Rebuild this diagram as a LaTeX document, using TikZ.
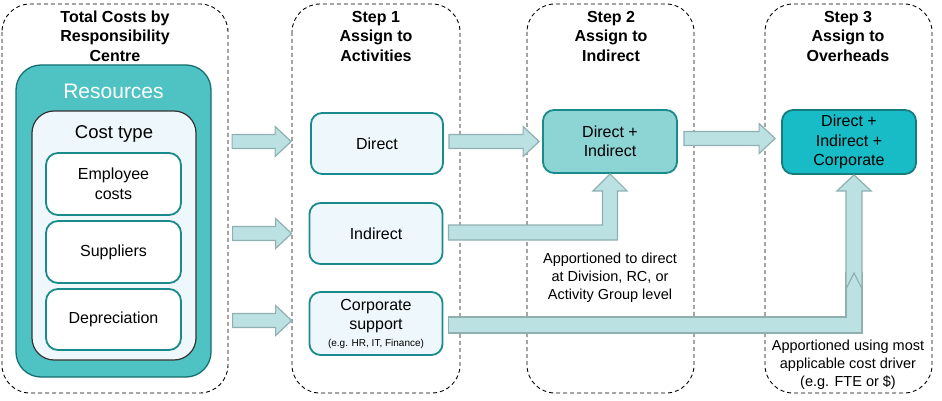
\documentclass[tikz,border=0pt]{standalone}
\usepackage{fontspec}
\setmainfont{Liberation Sans}
\usepackage{tikz}
\usetikzlibrary{arrows.meta, positioning, calc}
\definecolor{tealdark}{HTML}{1A8A8C}
\definecolor{tealres}{HTML}{4FC3C4}
\definecolor{tealmid}{HTML}{8DD4D5}
\definecolor{tealbright}{HTML}{17BCC7}
\definecolor{palefill}{HTML}{EEF7FB}
\definecolor{arrfill}{HTML}{BBE1E3}
\definecolor{arrline}{HTML}{8FAFB0}
\tikzset{
    frame/.style={draw=black, line width=0.9pt, dash pattern=on 4pt off 3pt, rounded corners=28pt},
    title/.style={align=center, font=\fontsize{16}{19.5}\selectfont\bfseries},
    costbox/.style={draw=tealdark, line width=1.8pt, fill=white, rounded corners=12pt, align=center, font=\fontsize{16}{19.5}\selectfont, minimum width=135pt, inner sep=0pt},
    stepbox/.style={draw=tealdark, line width=1.8pt, fill=palefill, rounded corners=11pt, align=center, font=\fontsize{16}{19.5}\selectfont, minimum width=133pt, minimum height=61pt, inner sep=0pt},
    note/.style={align=center, font=\fontsize{14.5}{18}\selectfont},
    fatarr/.style={draw=arrline, line width=1.2pt, fill=arrfill, line join=miter}
}
% straight block arrow: #1 tail, #2 tip
\newcommand{\fatarrow}[2]{\draw[fatarr] let \p1=#1, \p2=#2 in
    (\x1,\y1+7pt) -- (\x2-16pt,\y1+7pt) -- (\x2-16pt,\y1+15pt) -- (\x2,\y1)
    -- (\x2-16pt,\y1-15pt) -- (\x2-16pt,\y1-7pt) -- (\x1,\y1-7pt) -- cycle;}

\begin{document}
\begin{tikzpicture}[x=1pt, y=-1pt]
    \useasboundingbox (0,0) rectangle (942,401);

    % dashed columns
    \draw[frame] (2,4) rectangle (228,393);
    \draw[frame] (292,4) rectangle (460,393);
    \draw[frame] (527,4) rectangle (694,393);
    \draw[frame] (765,4) rectangle (932,393);

    \node[title] (t0) at (115,36) {Total Costs by\\Responsibility\\Centre};
    \node[title] (t1) at (376,36) {Step 1\\Assign to\\Activities};
    \node[title] (t2) at (611,36) {Step 2\\Assign to\\Indirect};
    \node[title] (t3) at (848,36) {Step 3\\Assign to\\Overheads};

    % resources column
    \node[draw=tealdark!80!black, line width=1.3pt, fill=tealres, rounded corners=25pt,
          minimum width=195pt, minimum height=312pt] (resources) at (113.5,221) {};
    \node[text=white, font=\fontsize{21}{24}\selectfont] (restext) at ($(resources.north)+(0,27)$) {Resources};
    \node[draw=black!80, line width=1.2pt, fill=palefill, rounded corners=22pt,
          minimum width=164pt, minimum height=249pt] (costtype) at (114,235.5) {};
    \node[font=\fontsize{18.5}{22}\selectfont] (costtext) at ($(costtype.north)+(0,24)$) {Cost type};
    \node[costbox, minimum height=62pt] (employee) at (113.5,184) {Employee\\costs};
    \node[costbox, minimum height=62pt] (suppliers) at (113.5,252) {Suppliers};
    \node[costbox, minimum height=61pt] (deprec) at (113.5,319.5) {Depreciation};

    % step 1
    \node[stepbox, minimum width=132pt] (direct) at (377,143.5) {Direct};
    \node[stepbox] (indirect) at (376,233.5) {Indirect};
    \node[stepbox, minimum height=63pt] (corporate) at (376,323.5)
        {Corporate\\support\\[-3pt]{\fontsize{10}{12}\selectfont (e.g. HR, IT, Finance)}};

    % step 2 and 3
    \node[stepbox, fill=tealmid, minimum width=134pt, minimum height=63pt] (dirind) at (610,141.5) {Direct +\\Indirect};
    \node[stepbox, fill=tealbright, draw=tealdark!90!black, minimum width=134pt, minimum height=64pt] (overheads) at (849,142) {Direct +\\Indirect +\\Corporate};

    \node[note] (note2) at (610,278) {Apportioned to direct\\at Division, RC, or\\Activity Group level};
    \node[note] (note3) at (848,365) {Apportioned using most\\applicable cost driver\\(e.g. FTE or \$)};

    % block arrows into step 1
    \fatarrow{($(direct.west)+(-78,-2)$)}{($(direct.west)+(-19,-2)$)}
    \fatarrow{($(indirect.west)+(-76,0)$)}{($(indirect.west)+(-17,0)$)}
    \fatarrow{($(corporate.west)+(-76,-3)$)}{($(corporate.west)+(-17,-3)$)}

    % straight arrows along the top row
    \fatarrow{($(direct.east)+(5,-2)$)}{($(dirind.west)+(-3,0)$)}
    \fatarrow{($(dirind.east)+(6,-3)$)}{($(overheads.west)+(-6,-3)$)}

    % indirect up into step 2
    \draw[fatarr] let \p1=($(indirect.east)+(5,-1)$), \p2=(dirind.south) in
        (\x1,\y1+7.5pt) -- (\x2-7.5pt,\y1+7.5pt) -- (\x2-7.5pt,\y2-17pt) -- (\x2-17pt,\y2-17pt)
        -- (\x2,\y2) -- (\x2+17pt,\y2-17pt) -- (\x2+7.5pt,\y2-17pt) -- (\x2+7.5pt,\y1-7.5pt)
        -- (\x1,\y1-7.5pt) -- cycle;

    % corporate up into step 3
    \draw[fatarr] let \p1=($(corporate.east)+(5,1.5)$), \p2=($(overheads.south)+(5,0)$) in
        (\x1,\y1+8pt) -- (\x2-8pt,\y1+8pt) -- (\x2-8pt,\y2-98pt) -- (\x2+8pt,\y2-98pt)
        -- (\x2+8pt,\y1-8pt) -- (\x1,\y1-8pt) -- cycle;
    \draw[fatarr] let \p2=($(overheads.south)+(5,0)$) in
        (\x2-8pt,\y2-114pt) -- (\x2-8pt,\y2-16pt) -- (\x2-17pt,\y2-16pt) -- (\x2,\y2)
        -- (\x2+17pt,\y2-16pt) -- (\x2+8pt,\y2-16pt) -- (\x2+8pt,\y2-114pt) -- (\x2,\y2-98pt) -- cycle;
\end{tikzpicture}
\end{document}
